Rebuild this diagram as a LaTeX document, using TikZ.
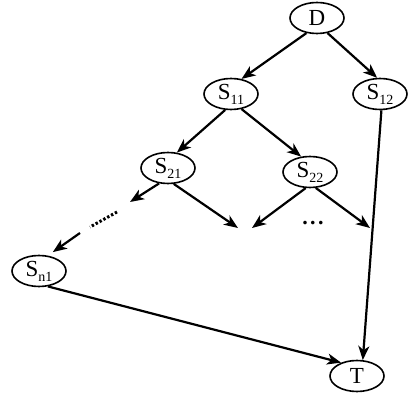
\documentclass[tikz,border=0pt]{standalone}
\usepackage{fontspec}
\setmainfont{Liberation Serif}
\usetikzlibrary{arrows.meta,shapes.geometric}
\newcommand{\sub}[1]{\raisebox{-5pt}{\fontsize{14}{14}\selectfont #1}}
\tikzset{
  st/.style={draw, ellipse, line width=1.6pt, minimum width=54pt, minimum height=31pt, inner sep=0pt, font=\fontsize{23}{23}\selectfont},
  arr/.style={line width=2.2pt, -{Stealth[length=14pt,width=11pt,inset=4pt]}},
  dotline/.style={line width=3pt, dash pattern=on 2.4pt off 2pt}
}
\begin{document}
\begin{tikzpicture}[x=1pt,y=1pt]
\useasboundingbox (0,0) rectangle (408,-395);
\node[st] (D) at (317,-18) {D};
\node[st] (S11) at (231,-94) {S\sub{11}};
\node[st] (S12) at (380,-94) {S\sub{12}};
\node[st] (S21) at (168,-168) {S\sub{21}};
\node[st] (S22) at (310,-172) {S\sub{22}};
\node[st] (Sn1) at (39,-271) {S\sub{n1}};
\node[st] (T) at (357,-376) {T};
\node[font=\bfseries\fontsize{22}{22}\selectfont] (dots) at (313,-223) {.\hspace{2.5pt}.\hspace{2.5pt}.};
\coordinate (a1) at (130,-202);
\coordinate (a3) at (238,-228);
\coordinate (a4) at (252,-228);
\coordinate (a5) at (370,-228);
\coordinate (d1) at (117,-212);
\coordinate (d2) at (90,-227);
\coordinate (a2) at (80,-233);
\draw[arr] (D.-125) -- (S11.55);
\draw[arr] (D.-55) -- (S12.100);
\draw[arr] (S11.-110) -- (S21.60);
\draw[arr] (S11.-55) -- (S22.120);
\draw[arr] (S21.-120) -- (a1);
\draw[arr] (S21.-70) -- (a3);
\draw[arr] (S22.-105) -- (a4);
\draw[arr] (S22.-70) -- (a5);
\draw[dotline] (d1) -- (d2);
\draw[arr, shorten >=6pt] (a2) -- (Sn1.60);
\draw[arr] (Sn1.-60) -- (T.140);
\draw[arr] (S12.-85) -- (T.70);
\end{tikzpicture}
\end{document}
